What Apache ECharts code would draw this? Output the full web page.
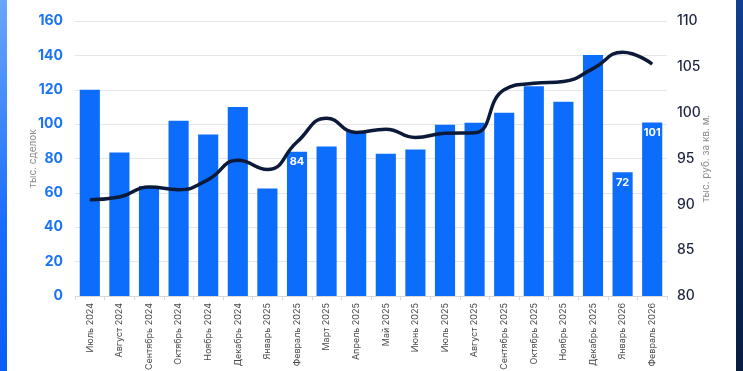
<!DOCTYPE html>
<html>
<head>
<meta charset="utf-8">
<script src="https://cdn.jsdelivr.net/npm/echarts@6/dist/echarts.min.js"></script>
<style>
html,body{margin:0;padding:0;background:#fff;}
#wrap{position:relative;width:743px;height:371px;overflow:hidden;background:#fff;}
#leftEdge{position:absolute;left:0;top:0;width:7px;height:371px;background:linear-gradient(to bottom,#6aa6ff,#1a6dff 60%,#0b5ef5);}
#rightEdge{position:absolute;right:0;top:0;width:7px;height:371px;background:linear-gradient(to bottom,#0f3f8f,#0a2a60 60%,#081c40);}
#chart{position:absolute;left:0;top:0;width:743px;height:371px;}
</style>
</head>
<body>
<div id="wrap">
<div id="chart"></div>
<div id="leftEdge"></div>
<div id="rightEdge"></div>
</div>
<script>
const categories = ['Июль 2024','Август 2024','Сентябрь 2024','Октябрь 2024','Ноябрь 2024','Декабрь 2024','Январь 2025','Февраль 2025','Март 2025','Апрель 2025','Май 2025','Июнь 2025','Июль 2025','Август 2025','Сентябрь 2025','Октябрь 2025','Ноябрь 2025','Декабрь 2025','Январь 2026','Февраль 2026'];
const deals = [120, 83.5, 64, 102, 94, 110, 62.5, 84, 87, 95.8, 82.8, 85.3, 99.7, 100.8, 106.6, 122, 113, 140.2, 72, 101];
const price = [90.5, 90.8, 91.9, 91.6, 92.7, 94.8, 93.8, 96.8, 99.4, 97.85, 98.2, 97.3, 97.75, 97.8, 102.5, 103.2, 103.4, 104.8, 106.6, 105.3];
const labeledIdx = [7, 18, 19];
const leftTicks = [0, 20, 40, 60, 80, 100, 120, 140, 160];
const rightTicks = [80, 85, 90, 95, 100, 105, 110];

const chart = echarts.init(document.getElementById('chart'));
chart.setOption({
  animation: false,
  backgroundColor: 'transparent',
  grid: {left: 75, right: 76, top: 21, bottom: 75, containLabel: false, outerBoundsMode: 'none'},
  xAxis: {
    type: 'category',
    data: categories,
    axisLine: {lineStyle: {color: '#d9d9d9'}},
    axisTick: {show: true, lineStyle: {color: '#d9d9d9'}, length: 4},
    axisLabel: {rotate: 90, color: '#4a4a4a', fontSize: 9, fontFamily: 'Inter', margin: 7}
  },
  yAxis: [
    {
      type: 'value', min: leftTicks[0], max: leftTicks[leftTicks.length-1], interval: 20,
      name: 'тыс. сделок', nameLocation: 'middle', nameGap: 37, nameRotate: 90, nameMoveOverlap: false,
      nameTextStyle: {color: '#8a8a8a', fontSize: 10, fontFamily: 'Inter'},
      axisLine: {show: false}, axisTick: {show: false},
      axisLabel: {color: '#1a72f5', fontSize: 14, fontWeight: 'bold', fontFamily: 'Inter', margin: 12},
      splitLine: {lineStyle: {color: '#e6e6e6', width: 1}}
    },
    {
      type: 'value', min: rightTicks[0], max: rightTicks[rightTicks.length-1], interval: 5,
      name: 'тыс. руб. за кв. м.', nameLocation: 'middle', nameGap: 34, nameRotate: 90, nameMoveOverlap: false,
      nameTextStyle: {color: '#8a8a8a', fontSize: 10, fontFamily: 'Inter'},
      axisLine: {show: false}, axisTick: {show: false},
      axisLabel: {color: '#1c2440', fontSize: 14, fontWeight: 500, fontFamily: 'Inter', margin: 10},
      splitLine: {show: false}
    }
  ],
  series: [
    {
      type: 'bar',
      data: deals.map((v, i) => ({
        value: v,
        label: {
          show: labeledIdx.includes(i),
          position: 'insideTop', distance: 5,
          color: '#ffffff', fontSize: 11, fontWeight: 'bold', fontFamily: 'Inter',
          formatter: () => String(Math.round(v))
        }
      })),
      barWidth: '68%',
      itemStyle: {color: '#0c6cfb'}
    },
    {
      type: 'line',
      yAxisIndex: 1,
      data: price,
      smooth: 0.5,
      symbol: 'none',
      lineStyle: {color: '#0c1a3a', width: 3.5}
    }
  ]
});
</script>
</body>
</html>
